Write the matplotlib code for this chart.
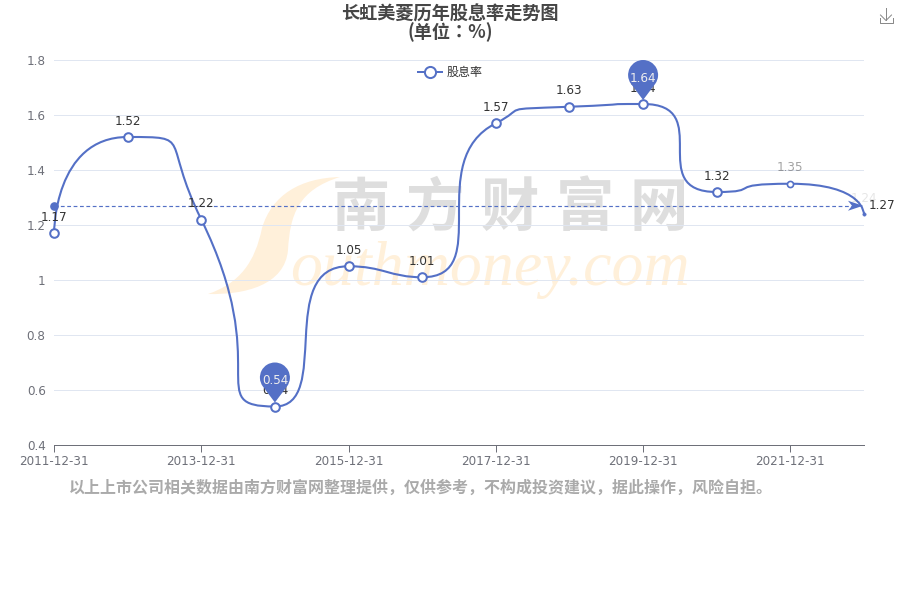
import numpy as np
import matplotlib
matplotlib.use("Agg")
import matplotlib.pyplot as plt
from matplotlib.lines import Line2D
from matplotlib.patches import PathPatch
from matplotlib.path import Path
from matplotlib.transforms import Affine2D

# ===============================
# DATA
# ===============================
dates = ["2011-12-31", "2012-12-31", "2013-12-31", "2014-12-31", "2015-12-31", "2016-12-31",
         "2017-12-31", "2018-12-31", "2019-12-31", "2020-12-31", "2021-12-31", "2022-12-31"]
values = [1.17, 1.52, 1.22, 0.54, 1.05, 1.01, 1.57, 1.63, 1.64, 1.32, 1.35, 1.24]
y_ticks = [0.4, 0.6, 0.8, 1.0, 1.2, 1.4, 1.6, 1.8]
y_tick_labels = ["0.4", "0.6", "0.8", "1", "1.2", "1.4", "1.6", "1.8"]
mean_value = 1.27
series_name = "股息率"
title_lines = ["长虹美菱历年股息率走势图", "(单位：%)"]
footer = "以上上市公司相关数据由南方财富网整理提供，仅供参考，不构成投资建议，据此操作，风险自担。"
wm_cn = "南方财富网"
wm_en = "outhmoney.com"

BLUE = "#5470c6"
CJK = ["Noto Sans CJK SC", "DejaVu Sans"]
plt.rcParams["font.family"] = ["DejaVu Sans", "Noto Sans CJK SC"]

W, H = 900, 600
fig = plt.figure(figsize=(W / 100, H / 100), dpi=100)
ax = fig.add_axes([54 / W, 1 - 445 / H, 810 / W, 385 / H])
ax.patch.set_alpha(0)
x = np.arange(len(values))
ax.set_xlim(0, len(values) - 1)
ax.set_ylim(0.4, 1.8)

# coordenadas en pixeles de la imagen (y hacia abajo)
px = Affine2D().scale(1, -1).translate(0, H)


def to_px(xv, yv):
    p = ax.transData.transform((xv, yv))
    return p[0], H - p[1]


def echarts_smooth(points, smooth=1.0):
    # suavizado de la linea de echarts, con smooth=1
    verts = [points[0]]
    codes = [Path.MOVETO]
    cp0 = np.array(points[0], dtype=float)
    n = len(points)
    for i in range(1, n):
        p = np.array(points[i], dtype=float)
        prev = np.array(points[i - 1], dtype=float)
        if i == n - 1:
            cp1 = p.copy()
            next_cp0 = p.copy()
        else:
            nxt = np.array(points[i + 1], dtype=float)
            v = nxt - prev
            len_prev = np.hypot(*(p - prev))
            len_next = np.hypot(*(nxt - p))
            ratio = len_next / (len_next + len_prev)
            next_cp0 = np.clip(p + v * smooth * ratio, np.minimum(nxt, p), np.maximum(nxt, p))
            cp1 = p - (next_cp0 - p) * len_prev / len_next
            cp1 = np.clip(cp1, np.minimum(prev, p), np.maximum(prev, p))
            next_cp0 = p + (p - cp1) * len_next / len_prev
        verts += [tuple(cp0), tuple(cp1), tuple(p)]
        codes += [Path.CURVE4] * 3
        cp0 = next_cp0
    return Path(verts, codes)


# ===============================
# MARCA DE AGUA
# ===============================
swoosh = Path(
    [(340, 177), (300, 178), (272, 195), (262, 228), (255, 262), (240, 283), (208, 294),
     (245, 295), (285, 285), (288, 250), (290, 215), (298, 190), (340, 177)],
    [Path.MOVETO] + [Path.CURVE4] * 12,
)
fig.add_artist(PathPatch(swoosh, transform=px, fc="#fff0da", ec="none", zorder=-1))
for i, ch in enumerate(wm_cn):
    fig.text((361 + i * 74.5) / W, 1 - 209 / H, ch, family=CJK, fontsize=42, fontweight="bold", color="#dedede",
             ha="center", va="center", zorder=-1)
fig.text(290 / W, 1 - 285 / H, wm_en, family="Liberation Serif", style="italic", fontsize=46,
         color="#fff0da", ha="left", va="baseline", zorder=-1)

# ===============================
# EJES
# ===============================
ax.set_yticks(y_ticks)
ax.set_yticklabels(y_tick_labels)
ax.set_xticks(x[::2])
ax.set_xticklabels(dates[::2])
ax.tick_params(axis="y", length=0, pad=6, labelsize=8.64, labelcolor="#6e7079")
ax.tick_params(axis="x", length=5, width=0.72, color="#6e7079", pad=2.5, labelsize=8.64, labelcolor="#6e7079")
ax.grid(axis="y", color="#e0e6f1", lw=0.72)
ax.set_axisbelow(True)
for s in ["top", "right", "left"]:
    ax.spines[s].set_visible(False)
ax.spines["bottom"].set_color("#6e7079")
ax.spines["bottom"].set_linewidth(0.72)

# ===============================
# SERIE
# ===============================
pts = [to_px(a, b) for a, b in zip(x, values)]
ax.add_patch(PathPatch(echarts_smooth(pts), transform=px, fc="none", ec=BLUE, lw=1.5, zorder=3, clip_on=False))

ax.plot(x[:10], values[:10], ls="none", marker="o", ms=6.2, mfc="white", mec=BLUE, mew=1.44,
        clip_on=False, zorder=4)
ax.plot(x[10], values[10], ls="none", marker="o", ms=4.4, mfc="white", mec=BLUE, mew=1.2,
        clip_on=False, zorder=4)
ax.plot(x[11], values[11], ls="none", marker="o", ms=2.4, mfc=BLUE, mec=BLUE, mew=0.4,
        clip_on=False, zorder=4)

for i, (a, b) in enumerate(zip(x, values)):
    alpha = 1.0
    if i == 10:
        alpha = 0.45
    if i == 11:
        alpha = 0.12
    ax.annotate(f"{b:g}", (a, b), xytext=(0, 11.5), textcoords="offset points", ha="center", va="center",
                fontsize=8.64, color="#333333", alpha=alpha, annotation_clip=False, zorder=5)

# linea de promedio
x0, ym = to_px(0, mean_value)
x1, _ = to_px(x[-1], mean_value)
ax.plot([0, x[-1] - 0.12], [mean_value, mean_value], color=BLUE, lw=0.85, ls=(0, (3.2, 2.2)), zorder=3,
        clip_on=False)
ax.plot(0, mean_value, ls="none", marker="o", ms=5.2, mfc=BLUE, mec=BLUE, clip_on=False, zorder=4)
arrow = Path([(x1 - 1, ym), (x1 - 16, ym - 5), (x1 - 12, ym), (x1 - 16, ym + 5), (x1 - 1, ym)],
             [Path.MOVETO, Path.LINETO, Path.LINETO, Path.LINETO, Path.CLOSEPOLY])
ax.add_patch(PathPatch(arrow, transform=px, fc=BLUE, ec="none", zorder=4, clip_on=False))
fig.text((x1 + 5) / W, 1 - ym / H, f"{mean_value:g}", fontsize=8.64, color="#333333", ha="left", va="center")

# pines de maximo y minimo
arc = Path.arc(-35, 215)
pin_verts = np.vstack([arc.vertices * 15 * np.array([1, -1]) + np.array([0, -29]), [[0, -4]], [[0, -4]]])
pin_codes = list(arc.codes) + [Path.LINETO, Path.CLOSEPOLY]
for idx in [int(np.argmin(values)), int(np.argmax(values))]:
    pxx, pxy = to_px(x[idx], values[idx])
    pin = Path(pin_verts + np.array([pxx, pxy]), pin_codes)
    ax.add_patch(PathPatch(pin, transform=px, fc=BLUE, ec="none", zorder=6, clip_on=False))
    ax.annotate(f"{values[idx]:g}", (x[idx], values[idx]), xytext=(0, 26 * 0.72), textcoords="offset points",
                fontsize=8.64, color="#eeeeee", ha="center", va="center", zorder=7, annotation_clip=False)

# ===============================
# TITULO, LEYENDA, PIE
# ===============================
fig.text(450 / W, 1 - 14.5 / H, title_lines[0], family=CJK, fontsize=13.1, fontweight="bold", color="#464646",
         ha="center", va="center")
fig.text(450 / W, 1 - 32 / H, title_lines[1], family=["Noto Sans CJK TC", "DejaVu Sans"], fontsize=13.1,
         fontweight="bold", color="#464646", ha="center", va="center")

fig.add_artist(Line2D([418, 442], [71.5, 71.5], transform=px, color=BLUE, lw=1.44))
fig.add_artist(Line2D([430], [71.5], transform=px, ls="none", marker="o", ms=8, mfc="white", mec=BLUE, mew=1.44))
fig.text(447 / W, 1 - 72 / H, series_name, family=CJK, fontsize=8.64, color="#333333", ha="left", va="center")

fig.text(69 / W, 1 - 488 / H, footer, family=CJK, fontsize=11.5, fontweight="bold", color="#aaaaaa",
         ha="left", va="center")

# icono de descarga
for xs, ys in [([886, 886], [8, 20]), ([880.5, 886, 891.5], [15, 20.5, 15]), ([879.5, 879.5, 892.5, 892.5], [18, 22.5, 22.5, 18])]:
    fig.add_artist(Line2D(xs, ys, transform=px, color="#8a8a8a", lw=0.72))

fig.savefig("out.png", dpi=100)
